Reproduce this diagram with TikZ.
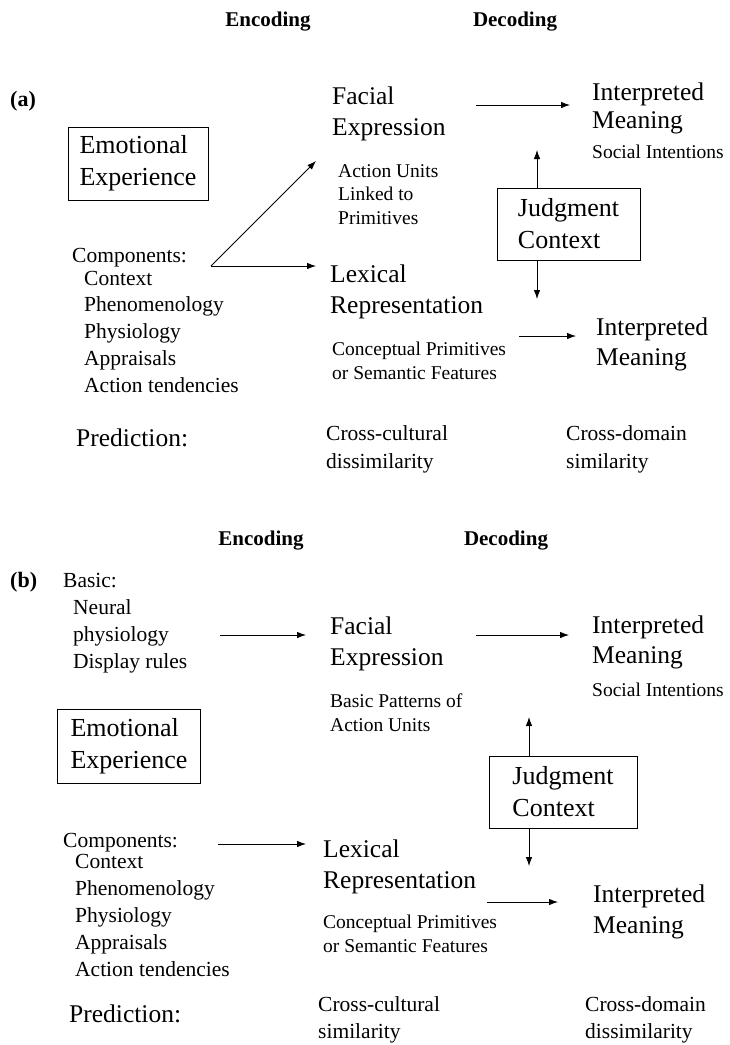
\documentclass[tikz,border=0pt]{standalone}
\usepackage{fontspec}
\setmainfont{Liberation Serif}
\usetikzlibrary{arrows.meta}
\begin{document}
\begin{tikzpicture}[x=1pt,y=-1pt,
 txt/.style={inner sep=0pt, anchor=base west, align=left},
 big/.style={txt, font=\fontsize{25.5}{31}\selectfont},
 mid/.style={txt, font=\fontsize{21.5}{26}\selectfont},
 pred/.style={txt, font=\fontsize{21.5}{28}\selectfont},
 sml/.style={txt, font=\fontsize{19.5}{23.5}\selectfont},
 head/.style={inner sep=0pt, anchor=base, font=\fontsize{21}{25}\selectfont\bfseries},
 lab/.style={inner sep=0pt, anchor=base west, font=\fontsize{22}{26}\selectfont\bfseries},
 box/.style={draw, line width=0.9pt, inner sep=0pt, align=left, font=\fontsize{26}{32}\selectfont},
 arr/.style={-{Latex[length=9pt,width=6.5pt]}, line width=0.8pt}
]
\useasboundingbox[fill=white] (0,0) rectangle (730,1045);
% multi-line text nodes are placed by the baseline of their LAST line

%% ---------------- (a) ----------------
\node[head] (encA) at (268,26) {Encoding};
\node[head] (decA) at (515,26) {Decoding};
\node[lab] (labA) at (10,106) {(a)};
\node[box, minimum width=140pt, minimum height=73pt] (emoA) at (138,163.5) {Emotional\\Experience};
\node[big] (facA) at (332,135) {Facial\\Expression};
\node[sml, font=\fontsize{19.5}{23.5}\selectfont] (auA) at (338,224) {Action Units\\Linked to\\Primitives};
\node[big, font=\fontsize{25.5}{28.5}\selectfont] (intA) at (592,128.5) {Interpreted\\Meaning};
\node[sml] (socA) at (592,158) {Social Intentions};
\node[box, minimum width=143pt, minimum height=72pt] (judA) at (568.5,224) {Judgment\\Context};
\node[mid] (compA) at (72,262) {Components:};
\node[mid, font=\fontsize{21.5}{26.75}\selectfont] (listA) at (84,392) {Context\\Phenomenology\\Physiology\\Appraisals\\Action tendencies};
\node[big, font=\fontsize{25.5}{31}\selectfont] (lexA) at (330,313) {Lexical\\Representation};
\node[sml, font=\fontsize{19.5}{24}\selectfont] (conA) at (332,379) {Conceptual Primitives\\or Semantic Features};
\node[big, font=\fontsize{25.5}{30}\selectfont] (intA2) at (596,365) {Interpreted\\Meaning};
\node[big] (predA) at (76,446) {Prediction:};
\node[pred] (ccA) at (326,468) {Cross-cultural\\dissimilarity};
\node[pred] (cdA) at (566,468) {Cross-domain\\similarity};

\coordinate (forkA) at (211,266);
\coordinate (faceTipA) at (316,161);
\coordinate (lexTipA) at (316,266);
\draw[arr] (forkA) -- (faceTipA);
\draw[arr] (forkA) -- (lexTipA);
\coordinate (a1s) at (476,105);
\coordinate (a1e) at (570,105);
\draw[arr] (a1s) -- (a1e);
\coordinate (upTipA) at (537,150);
\draw[arr] (judA.north -| upTipA) -- (upTipA);
\coordinate (dnTipA) at (537,299);
\draw[arr] (judA.south -| dnTipA) -- (dnTipA);
\coordinate (a2s) at (519,336);
\coordinate (a2e) at (576,336);
\draw[arr] (a2s) -- (a2e);

%% ---------------- (b) ----------------
\node[head] (encB) at (261,545) {Encoding};
\node[head] (decB) at (506,545) {Decoding};
\node[lab] (labB) at (10,587) {(b)};
\node[mid] (basB) at (63,587) {Basic:};
\node[mid, font=\fontsize{21.5}{27}\selectfont] (neuB) at (73,668) {Neural\\physiology\\Display rules};
\node[big] (facB) at (330,665) {Facial\\Expression};
\node[sml, font=\fontsize{19.5}{24}\selectfont] (bpB) at (330,731) {Basic Patterns of\\Action Units};
\node[big, font=\fontsize{25.5}{30}\selectfont] (intB) at (592,663) {Interpreted\\Meaning};
\node[sml] (socB) at (592,696) {Social Intentions};
\node[box, minimum width=143pt, minimum height=74pt] (emoB) at (129,746) {Emotional\\Experience};
\node[box, minimum width=148pt, minimum height=72pt] (judB) at (563,792) {Judgment\\Context};
\node[mid] (compB) at (63,847) {Components:};
\node[mid, font=\fontsize{21.5}{26.8}\selectfont] (listB) at (75,976) {Context\\Phenomenology\\Physiology\\Appraisals\\Action tendencies};
\node[big] (lexB) at (323,888) {Lexical\\Representation};
\node[sml, font=\fontsize{19.5}{23.5}\selectfont] (conB) at (323,952) {Conceptual Primitives\\or Semantic Features};
\node[big] (intB2) at (593,933) {Interpreted\\Meaning};
\node[big] (predB) at (69,1022) {Prediction:};
\node[pred, font=\fontsize{21.5}{27}\selectfont] (ccB) at (318,1038) {Cross-cultural\\similarity};
\node[pred, font=\fontsize{21.5}{27}\selectfont] (cdB) at (585,1038) {Cross-domain\\dissimilarity};

\coordinate (b0s) at (220,635);
\coordinate (b0e) at (306,635);
\draw[arr] (b0s) -- (b0e);
\coordinate (b1s) at (476,635);
\coordinate (b1e) at (569,635);
\draw[arr] (b1s) -- (b1e);
\coordinate (upTipB) at (529,717);
\draw[arr] (judB.north -| upTipB) -- (upTipB);
\coordinate (dnTipB) at (529,866);
\draw[arr] (judB.south -| dnTipB) -- (dnTipB);
\coordinate (b2s) at (218,844);
\coordinate (b2e) at (306,844);
\draw[arr] (b2s) -- (b2e);
\coordinate (b3s) at (487,902);
\coordinate (b3e) at (558,902);
\draw[arr] (b3s) -- (b3e);
\end{tikzpicture}
\end{document}
